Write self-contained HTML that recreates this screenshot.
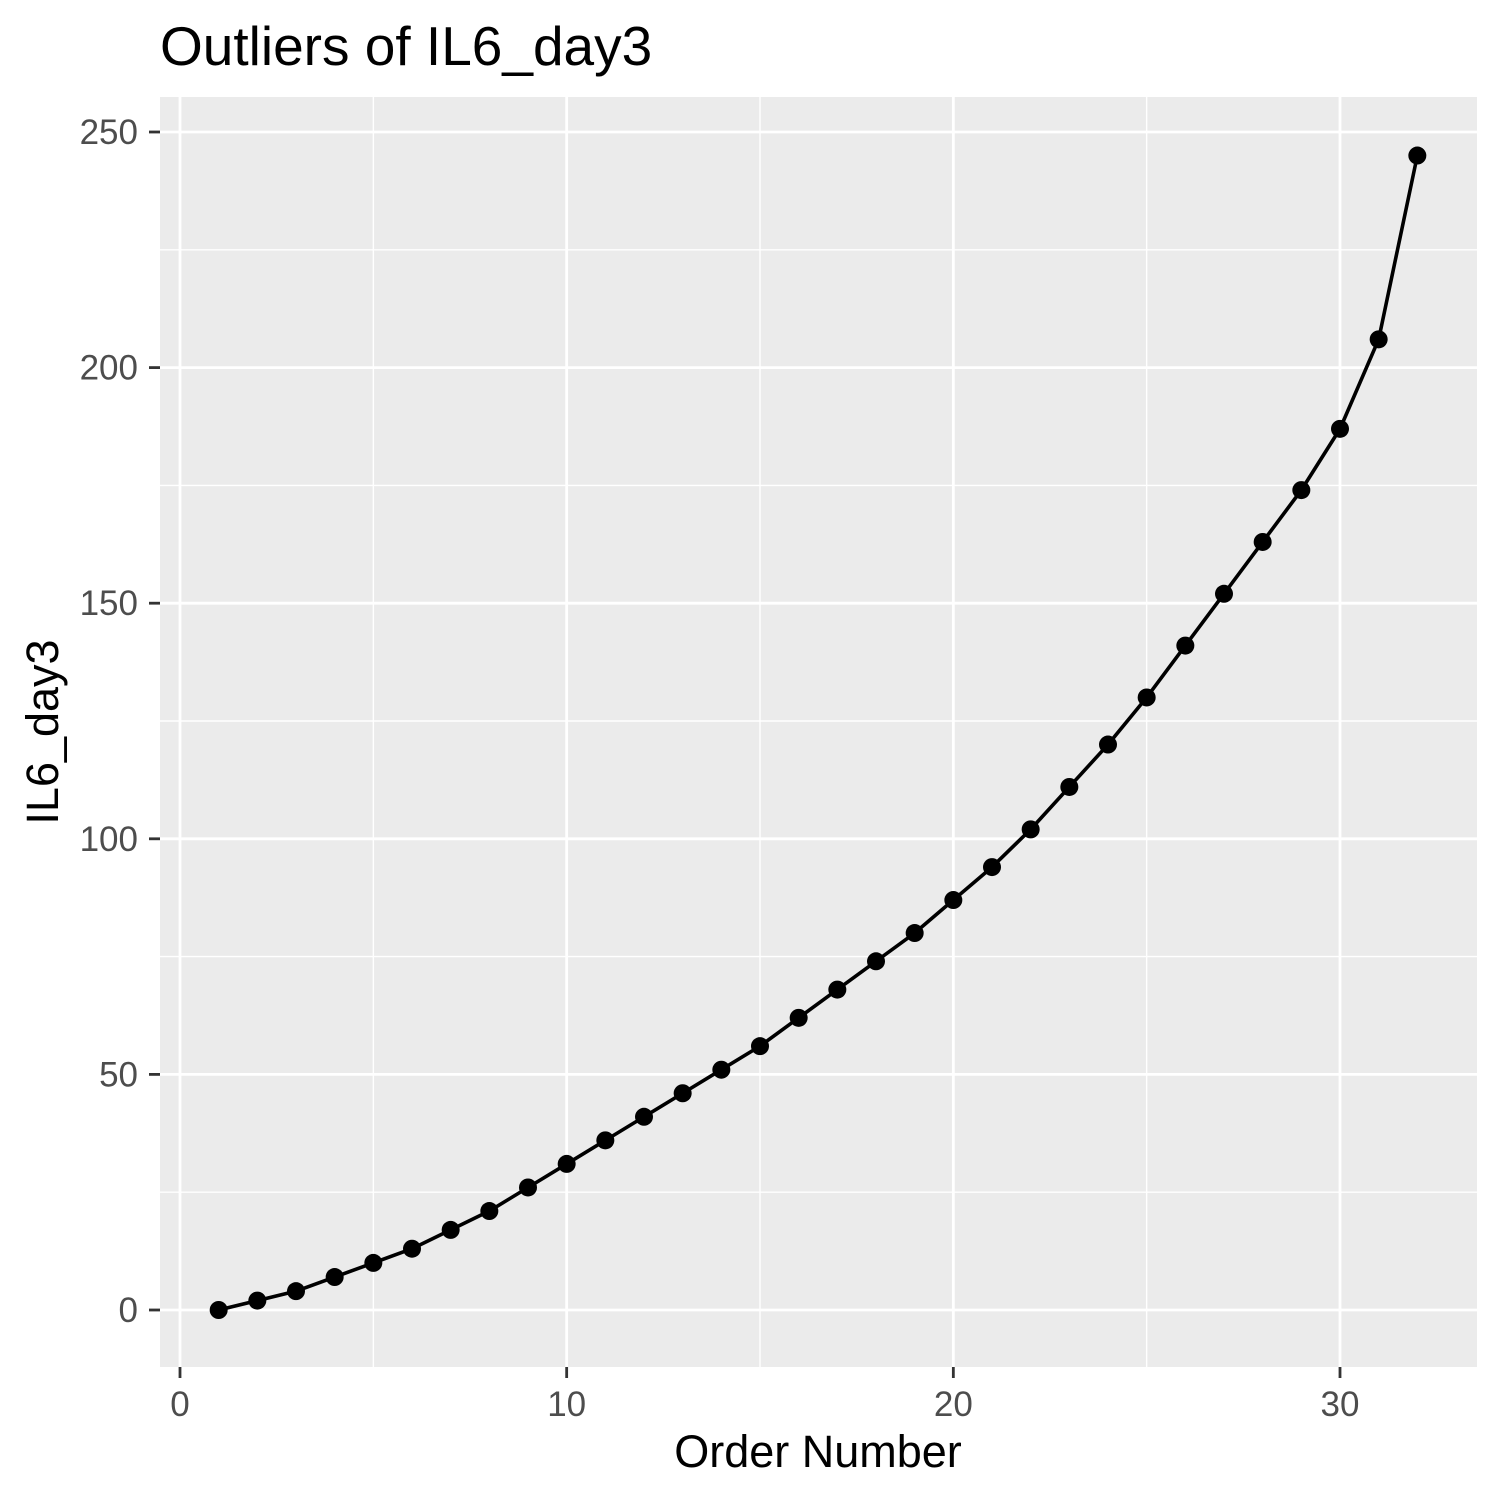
<!DOCTYPE html>
<html><head><meta charset="utf-8"><style>
html,body{margin:0;padding:0;background:#fff;}
svg{display:block;font-family:"Liberation Sans",Arial,sans-serif;}
</style></head><body>
<svg id="chart" width="1500" height="1500" viewBox="0 0 1500 1500">
<rect width="1500" height="1500" fill="#fff"/>
<text x="160" y="65" font-size="55" fill="#000">Outliers of IL6_day3</text>
<rect x="160" y="97" width="1317" height="1270" fill="#ebebeb"/>
<g id="grid"></g>
<g id="axes"></g>
<g id="series"></g>
<text x="818" y="1467" font-size="45" text-anchor="middle" fill="#000">Order Number</text>
<text transform="translate(58,732) rotate(-90)" font-size="45" text-anchor="middle" fill="#000">IL6_day3</text>
</svg>
<script>
const orderNumbers = [1,2,3,4,5,6,7,8,9,10,11,12,13,14,15,16,17,18,19,20,21,22,23,24,25,26,27,28,29,30,31,32];
const il6Values = [0,2,4,7,10,13,17,21,26,31,36,41,46,51,56,62,68,74,80,87,94,102,111,120,130,141,152,163,174,187,206,245];
const xTicks = [0,10,20,30];
const yTicks = [0,50,100,150,200,250];
const xMinor = [5,15,25];
const yMinor = [25,75,125,175,225];

const NS = "http://www.w3.org/2000/svg";
const X0 = 180, XS = (1340-180)/30;
const Y0 = 1310, YS = (1310-132)/250;
const sx = v => X0 + v*XS;
const sy = v => Y0 - v*YS;
function mk(tag, attrs, parent){
  const e = document.createElementNS(NS, tag);
  for (const k in attrs) e.setAttribute(k, attrs[k]);
  parent.appendChild(e);
  return e;
}
const grid = document.getElementById('grid');
const axes = document.getElementById('axes');
const series = document.getElementById('series');
xMinor.forEach(v=>{
  const l = mk('line',{x1:sx(v),x2:sx(v),y1:97,y2:1367,stroke:'#fff','stroke-width':1.4},grid);
  
  
});
yMinor.forEach(v=>{
  const l = mk('line',{x1:160,x2:1477,y1:sy(v),y2:sy(v),stroke:'#fff','stroke-width':1.4},grid);
  
  
});
xTicks.forEach(v=>{
  const l = mk('line',{x1:sx(v),x2:sx(v),y1:97,y2:1367,stroke:'#fff','stroke-width':2.8},grid);
  
  
  mk('line',{x1:sx(v),x2:sx(v),y1:1367,y2:1378,stroke:'#333','stroke-width':2.8},axes);
  const t = mk('text',{x:sx(v),y:1416,'font-size':35,'text-anchor':'middle',fill:'#4d4d4d'},axes);
  t.textContent = v;
  
  
});
yTicks.forEach(v=>{
  const l = mk('line',{x1:160,x2:1477,y1:sy(v),y2:sy(v),stroke:'#fff','stroke-width':2.8},grid);
  
  
  mk('line',{x1:149,x2:160,y1:sy(v),y2:sy(v),stroke:'#333','stroke-width':2.8},axes);
  const t = mk('text',{x:138,y:sy(v)+12,'font-size':35,'text-anchor':'end',fill:'#4d4d4d'},axes);
  t.textContent = v;
  
  
});
const pts = orderNumbers.map((o,i)=>sx(o)+','+sy(il6Values[i])).join(' ');
const line = mk('polyline',{points:pts,fill:'none',stroke:'#000','stroke-width':3.6,'stroke-linejoin':'round'},series);


orderNumbers.forEach((o,i)=>{
  const c = mk('circle',{cx:sx(o),cy:sy(il6Values[i]),r:9,fill:'#000'},series);
  
  
});
</script>
</body></html>
